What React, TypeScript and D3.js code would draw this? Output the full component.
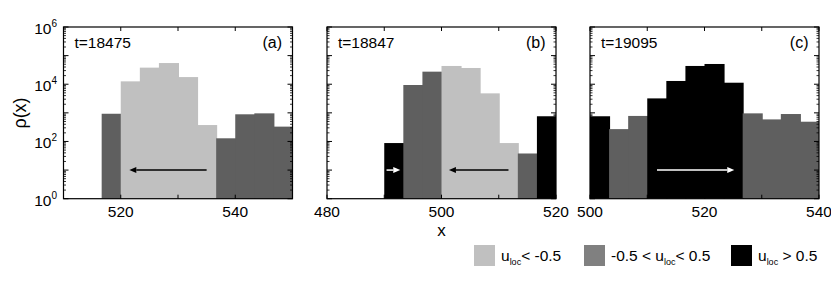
import React from "react";
import * as d3 from "d3";

const FONT = "'Liberation Sans', Arial, Helvetica, sans-serif";
const COLORS = ["#c0c0c0", "#5f5f5f", "#000000"];
const LEGEND_COLORS = ["#c0c0c0", "#808080", "#000000"];

const BIN_WIDTH = 10 / 3;

// panel (a)
const aDomain = [510, 550];
const aStart = 516.667;
const aValues = [930, 12600, 38000, 55000, 17800, 375, 129, 890, 960, 330];
const aClasses = [1, 0, 0, 0, 0, 0, 1, 1, 1, 1];
const aTicks = [520, 540];

// panel (b)
const bDomain = [480, 520];
const bStart = 490;
const bValues = [88, 9400, 27500, 43500, 37000, 4800, 88, 38, 760];
const bClasses = [2, 1, 1, 0, 0, 0, 0, 1, 2];
const bTicks = [480, 500, 520];

// panel (c)
const cDomain = [500, 540];
const cStart = 500;
const cValues = [760, 270, 780, 3200, 13000, 43500, 51000, 11300, 960, 590, 910, 490];
const cClasses = [2, 1, 1, 2, 2, 2, 2, 2, 1, 1, 1, 1];
const cTicks = [500, 520, 540];

const panelLabels = ["(a)", "(b)", "(c)"];
const timeLabels = ["t=18475", "t=18847", "t=19095"];

// arrows: [from, to] in x units, at rho = 10
const aArrows = [{ from: 535, to: 521.5, color: "#000" }];
const bArrows = [
  { from: 511.7, to: 501.3, color: "#000" },
  { from: 490.4, to: 492.8, color: "#fff" },
];
const cArrows = [{ from: 511.7, to: 525.2, color: "#fff" }];
const arrowLevel = 10;

const legendLabels = [
  ["u", "loc", "< -0.5"],
  ["-0.5 < u", "loc", "< 0.5"],
  ["u", "loc", " > 0.5"],
];

const yDecades = [0, 1, 2, 3, 4, 5, 6];
const yLabelDecades = [0, 2, 4, 6];

const TOP = 27;
const BOTTOM = 198.7;
const WIDTH = 229;

const panels = [
  { left: 63.5, domain: aDomain, start: aStart, values: aValues, classes: aClasses, ticks: aTicks, arrows: aArrows },
  { left: 327, domain: bDomain, start: bStart, values: bValues, classes: bClasses, ticks: bTicks, arrows: bArrows },
  { left: 590, domain: cDomain, start: cStart, values: cValues, classes: cClasses, ticks: cTicks, arrows: cArrows },
];

function Panel({ p, idx }: { p: any; idx: number }) {
  const x = d3.scaleLinear().domain(p.domain).range([p.left, p.left + WIDTH]);
  const y = d3.scaleLog().domain([1, 1e6]).range([BOTTOM, TOP]);
  const minor: number[] = [];
  for (let k = 0; k < 6; k++) for (let m = 2; m <= 9; m++) minor.push(m * Math.pow(10, k));
  const xTicks = d3.range(p.domain[0], p.domain[1] + 0.001, 10);
  const right = p.left + WIDTH;
  return (
    <g>
      {p.values.map((v: number, i: number) => {
        const x0 = x(p.start + i * BIN_WIDTH);
        const x1 = Math.min(x(p.start + (i + 1) * BIN_WIDTH) + 1, right);
        return (
          <rect key={i} x={x0} y={y(v)} width={x1 - x0} height={BOTTOM - y(v)} fill={COLORS[p.classes[i]]} />
        );
      })}
      {p.arrows.map((a: any, i: number) => {
        const yy = y(arrowLevel);
        const x0 = x(a.from);
        const x1 = x(a.to);
        const dir = x1 > x0 ? 1 : -1;
        const hl = 7;
        return (
          <g key={i}>
            <line x1={x0} x2={x1 - dir * hl} y1={yy} y2={yy} stroke={a.color} strokeWidth={1.5} />
            <polygon points={`${x1},${yy} ${x1 - dir * hl},${yy - 3} ${x1 - dir * hl},${yy + 3}`} fill={a.color} />
          </g>
        );
      })}
      {yDecades.map((d) => {
        const yy = y(Math.pow(10, d));
        return (
          <g key={"M" + d}>
            <line x1={p.left} x2={p.left + 5} y1={yy} y2={yy} stroke="#000" strokeWidth={1} />
            <line x1={right} x2={right - 5} y1={yy} y2={yy} stroke="#000" strokeWidth={1} />
          </g>
        );
      })}
      {minor.map((v, i) => {
        const yy = y(v);
        return (
          <g key={"m" + i}>
            <line x1={p.left} x2={p.left + 2.5} y1={yy} y2={yy} stroke="#000" strokeWidth={0.8} />
            <line x1={right} x2={right - 2.5} y1={yy} y2={yy} stroke="#000" strokeWidth={0.8} />
          </g>
        );
      })}
      {xTicks.map((t: number) => (
        <g key={"x" + t}>
          <line x1={x(t)} x2={x(t)} y1={BOTTOM} y2={BOTTOM - 4} stroke="#000" strokeWidth={1} />
          <line x1={x(t)} x2={x(t)} y1={TOP} y2={TOP + 4} stroke="#000" strokeWidth={1} />
        </g>
      ))}
      <rect x={p.left} y={TOP} width={WIDTH} height={BOTTOM - TOP} fill="none" stroke="#000" strokeWidth={1.2} />
      {p.ticks.map((t: number) => (
        <text key={"l" + t} x={x(t)} y={217} textAnchor="middle" fontSize={15.5} fontFamily={FONT} fill="#000">
          {t}
        </text>
      ))}
      <text x={p.left + 11} y={48} fontSize={15.5} fontFamily={FONT} fill="#000">
        {timeLabels[idx]}
      </text>
      <text x={right - 10.5} y={48} textAnchor="end" fontSize={16} fontFamily={FONT} fill="#000">
        {panelLabels[idx]}
      </text>
      {idx === 0 &&
        yLabelDecades.map((d) => (
          <text key={"yl" + d} x={57} y={y(Math.pow(10, d)) + 7} textAnchor="end" fontSize={15.5} fontFamily={FONT} fill="#000">
            10
            <tspan dy={-7} fontSize={10}>
              {d}
            </tspan>
          </text>
        ))}
    </g>
  );
}

export default function App() {
  const legendX = [474, 584, 731];
  return (
    <svg width={831} height={288} style={{ position: "absolute", left: 0, top: 0, background: "#fff" }}>
      <rect x={0} y={0} width={831} height={288} fill="#fff" />
      {panels.map((p, i) => (
        <Panel key={i} p={p} idx={i} />
      ))}
      <text
        transform="translate(26,113) rotate(-90)"
        textAnchor="middle"
        fontSize={18}
        fontFamily={FONT}
        fill="#000"
      >
        ρ(x)
      </text>
      <text x={441.5} y={236} textAnchor="middle" fontSize={17} fontFamily={FONT} fill="#000">
        x
      </text>
      {legendLabels.map((l, i) => (
        <g key={i}>
          <rect x={legendX[i]} y={245} width={21} height={21} fill={LEGEND_COLORS[i]} />
          <text x={legendX[i] + 27} y={261} fontSize={15.5} fontFamily={FONT} fill="#000">
            {l[0]}
            <tspan dy={4} fontSize={9}>
              {l[1]}
            </tspan>
            <tspan dy={-4}>{l[2]}</tspan>
          </text>
        </g>
      ))}
    </svg>
  );
}
